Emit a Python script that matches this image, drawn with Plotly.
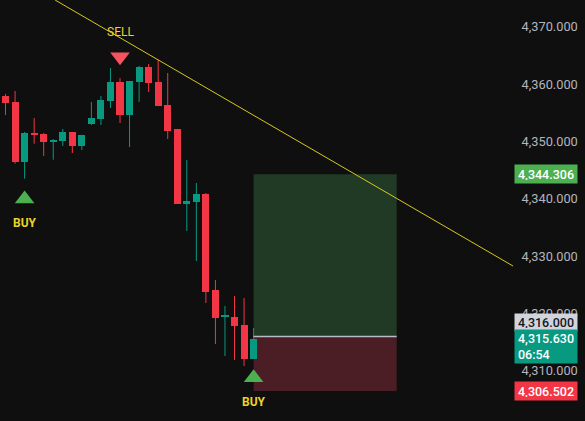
import plotly.graph_objects as go

# candle data (index = bar number)
opens = [4357.96, 4356.90, 4346.50, 4351.51, 4351.34, 4349.94, 4350.12, 4351.69, 4349.24,
         4353.08, 4353.95, 4357.09, 4360.41, 4354.65, 4360.41, 4363.02, 4360.41, 4356.39,
         4352.20, 4339.13, 4339.48, 4340.87, 4324.13, 4319.42, 4319.42, 4318.02, 4312.09]
highs = [4358.31, 4358.84, 4351.69, 4354.13, 4351.50, 4350.46, 4352.21, 4351.69, 4351.20,
         4356.92, 4357.96, 4362.85, 4361.10, 4354.65, 4363.20, 4363.55, 4364.24, 4361.98,
         4352.20, 4346.80, 4342.79, 4341.04, 4325.87, 4321.33, 4323.08, 4322.73, 4317.50]
lows = [4354.65, 4346.16, 4343.54, 4349.64, 4347.50, 4346.85, 4349.24, 4348.02, 4348.55,
        4352.91, 4352.91, 4355.87, 4353.25, 4349.07, 4356.92, 4358.66, 4356.22, 4350.46,
        4339.13, 4334.42, 4329.18, 4321.86, 4314.71, 4312.61, 4311.92, 4310.87, 4312.09]
closes = [4356.80, 4346.50, 4351.51, 4351.20, 4349.94, 4350.29, 4351.69, 4349.24, 4351.16,
          4354.13, 4357.27, 4360.41, 4354.65, 4360.58, 4363.02, 4360.23, 4356.22, 4351.86,
          4339.13, 4339.65, 4340.87, 4323.78, 4319.24, 4319.59, 4317.85, 4312.09, 4315.63]

# signals
buy_idx = [2, 26]
buy_price = [4340.0, 4308.8]
sell_idx = [12]
sell_price = [4364.8]

# long position tool
entry = 4316.000
target = 4344.306
stop = 4306.502
pos_start, pos_end = 26, 41

# trend line
trend_x = [5.2, 53.2]
trend_y = [4374.7, 4328.3]

last_price = 4315.630
countdown = "06:54"

UP = "#089981"
DOWN = "#f23645"
BG = "#0f0f0f"
SIG = "#ecd32a"

idx = list(range(len(opens)))
up = [c >= o for o, c in zip(opens, closes)]

fig = go.Figure()

# position boxes
fig.add_shape(type="rect", x0=pos_start, x1=pos_end, y0=entry, y1=target,
              fillcolor="#213a25", line_width=0, layer="below")
fig.add_shape(type="rect", x0=pos_start, x1=pos_end, y0=stop, y1=entry,
              fillcolor="#4a1e24", line_width=0, layer="below")
fig.add_shape(type="line", x0=pos_start, x1=pos_end, y0=entry, y1=entry,
              line=dict(color="#b8bcc6", width=1.5))

# wicks
wx, wy_up, wx_dn, wy_dn = [], [], [], []
for i in idx:
    if up[i]:
        wx += [i, i, None]
        wy_up += [lows[i], highs[i], None]
    else:
        wx_dn += [i, i, None]
        wy_dn += [lows[i], highs[i], None]
fig.add_scatter(x=wx, y=wy_up, mode="lines", line=dict(color=UP, width=1),
                hoverinfo="skip", showlegend=False)
fig.add_scatter(x=wx_dn, y=wy_dn, mode="lines", line=dict(color=DOWN, width=1),
                hoverinfo="skip", showlegend=False)

# bodies
base = [min(o, c) for o, c in zip(opens, closes)]
height = [max(abs(c - o), 0.2) for o, c in zip(opens, closes)]
fig.add_bar(x=idx, y=height, base=base, width=0.74,
            marker=dict(color=[UP if u else DOWN for u in up], line_width=0),
            showlegend=False)

# trend line
fig.add_scatter(x=trend_x, y=trend_y, mode="lines", line=dict(color="#d9c81e", width=1),
                showlegend=False)

# signals
fig.add_scatter(x=buy_idx, y=buy_price, mode="markers",
                marker=dict(symbol="triangle-up", size=17, color="#4caf50"),
                showlegend=False)
fig.add_scatter(x=sell_idx, y=sell_price, mode="markers",
                marker=dict(symbol="triangle-down", size=17, color="#f7525f"),
                showlegend=False)
for x, y in zip(buy_idx, buy_price):
    fig.add_annotation(x=x, y=y, text="BUY", showarrow=False, yshift=-24,
                       font=dict(color=SIG, size=12, family="Roboto", weight="bold"))
for x, y in zip(sell_idx, sell_price):
    fig.add_annotation(x=x, y=y, text="SELL", showarrow=False, yshift=25,
                       font=dict(color=SIG, size=12, family="Roboto"))

# price labels on axis
labels = [
    (target, f"{target:,.3f}", "#4caf50", "#ffffff", 12, 0),
    (entry, f"{entry:,.3f}", "#d1d4dc", "#131722", 11, 14),
    (last_price, f"{last_price:,.3f}<br>{countdown}", UP, "#ffffff", 27, -8),
    (stop, f"{stop:,.3f}", DOWN, "#ffffff", 12, 0),
]
for y, txt, bg, fc, h, ys in labels:
    fig.add_annotation(x=1, xref="paper", y=y, yref="y", text=txt, showarrow=False,
                       xanchor="left", align="left", bgcolor=bg, width=56, height=h,
                       font=dict(color=fc, size=12.5, family="Roboto", weight=500),
                       xshift=-1, yshift=ys, borderpad=3)

fig.update_layout(
    width=585, height=421,
    margin=dict(l=0, r=70, t=0, b=0),
    paper_bgcolor=BG, plot_bgcolor=BG,
    bargap=0,
    xaxis=dict(range=[-0.58, 53.4], visible=False, showgrid=False, zeroline=False),
    yaxis=dict(range=[4301.27, 4374.71], side="right", showgrid=False, zeroline=False,
               tickvals=[4310, 4320, 4330, 4340, 4350, 4360, 4370], tickformat=",.3f",
               ticks="outside", ticklen=3, tickcolor=BG,
               tickfont=dict(color="#b2b5be", size=12.8, family="Roboto")),
    font=dict(family="Roboto"),
)

fig.write_html("out.html", config={"displayModeBar": False},
               post_script="document.body.style.margin='0';")
